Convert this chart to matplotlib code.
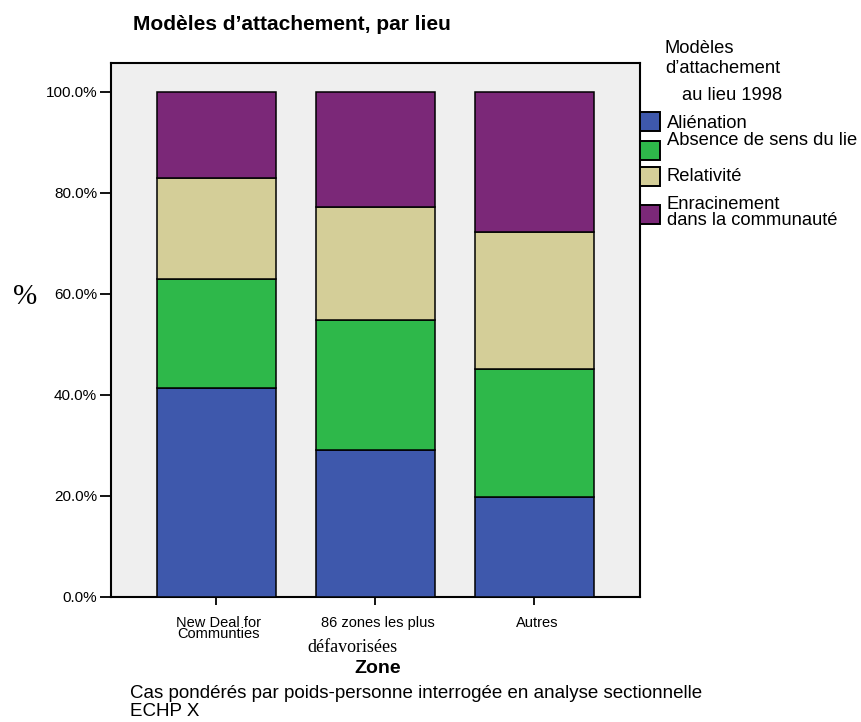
import matplotlib
matplotlib.use("Agg")
import matplotlib.pyplot as plt
import matplotlib.transforms as mtransforms
from matplotlib.patches import Rectangle
import numpy as np

plt.rcParams['font.family'] = ['Liberation Sans', 'DejaVu Sans']

# Data: share (%) of each attachment model per zone
zones = ["New Deal for\nCommunties", "86 zones les plus", "Autres"]
series = ["Aliénation", "Absence de sens du lie", "Relativité",
          "Enracinement\ndans la communauté"]
alienation = [41.4, 29.0, 19.7]
absence = [21.6, 25.8, 25.5]
relativite = [19.9, 22.5, 27.1]
enracinement = [17.1, 22.7, 27.7]
yticks = [0, 20, 40, 60, 80, 100]

colors = ["#3e58ac", "#2eb84a", "#d4ce98", "#7b2878"]
values = [alienation, absence, relativite, enracinement]

W, H = 861, 722
fig = plt.figure(figsize=(W / 100, H / 100), dpi=100)
fig.patch.set_facecolor("white")


def fx(px):
    return px / W


def fy(py):
    return 1 - py / H


ax = fig.add_axes([fx(110.7), fy(596.8), fx(640) - fx(110.7), fy(63.2) - fy(596.8)])
ax.set_facecolor("#efefef")

x = np.arange(len(zones))
bottom = np.zeros(len(zones))
for vals, col in zip(values, colors):
    ax.bar(x, vals, width=0.75, bottom=bottom, color=col,
           edgecolor="black", linewidth=1.1, zorder=3)
    bottom += np.array(vals)

ax.set_xlim(-0.665, 2.665)
ax.set_ylim(0, 105.7)
ax.set_yticks(yticks)
ax.set_yticklabels([f"{v:.1f}%" for v in yticks], fontsize=11)
ax.set_xticks(x)
ax.set_xticklabels(zones, fontsize=10.5, linespacing=0.75, va="top")
for spine in ax.spines.values():
    spine.set_linewidth(1.5)
ax.tick_params(axis="y", length=7.7, width=1.3, pad=2)
ax.tick_params(axis="x", length=6, width=1.3, pad=8)

# shift the category labels slightly to the right
shifts = [2, 3, 3]
for lab, s in zip(ax.get_xticklabels(), shifts):
    off = mtransforms.ScaledTranslation(s / 100, 0, fig.dpi_scale_trans)
    lab.set_transform(lab.get_transform() + off)

fig.text(fx(352.7), fy(647), "défavorisées", family="Liberation Serif",
         fontsize=13, ha="center", va="center")

# titles and notes
fig.text(fx(291.5), fy(25), "Modèles d\u2019attachement, par lieu",
         fontsize=15, fontweight="bold", ha="center", va="center")
fig.text(fx(25), fy(297), "%", family="Liberation Serif", fontsize=21,
         ha="center", va="center")
fig.text(fx(378), fy(668.5), "Zone", fontsize=14, fontweight="bold",
         ha="center", va="center")
fig.text(fx(130), fy(694),
         "Cas pondérés par poids-personne interrogée en analyse sectionnelle",
         fontsize=13.5, ha="left", va="center")
fig.text(fx(130), fy(712), "ECHP X", fontsize=13.5, ha="left", va="center")

# legend, drawn by hand
fig.text(fx(665), fy(48.5), "Modèles", fontsize=13.2, ha="left", va="center")
fig.text(fx(665), fy(68.5), "d\u2019attachement", fontsize=13.2, ha="left",
         va="center")
fig.text(fx(682), fy(95.3), "au lieu 1998", fontsize=13.2, ha="left",
         va="center")
patch_tops = [112, 140.5, 167, 204.5]
patch_h = 19
text_y = [123.5, 140.5, 176.5, 212.5]
for col, name, top, ty in zip(colors, series, patch_tops, text_y):
    fig.patches.append(Rectangle((fx(640), fy(top + patch_h)), fx(19.5),
                                 fy(top) - fy(top + patch_h),
                                 transform=fig.transFigure, facecolor=col,
                                 edgecolor="black", linewidth=1.4))
    fig.text(fx(667), fy(ty), name, fontsize=13.2, ha="left", va="center",
             linespacing=0.95)

fig.savefig("out.png", dpi=100)
